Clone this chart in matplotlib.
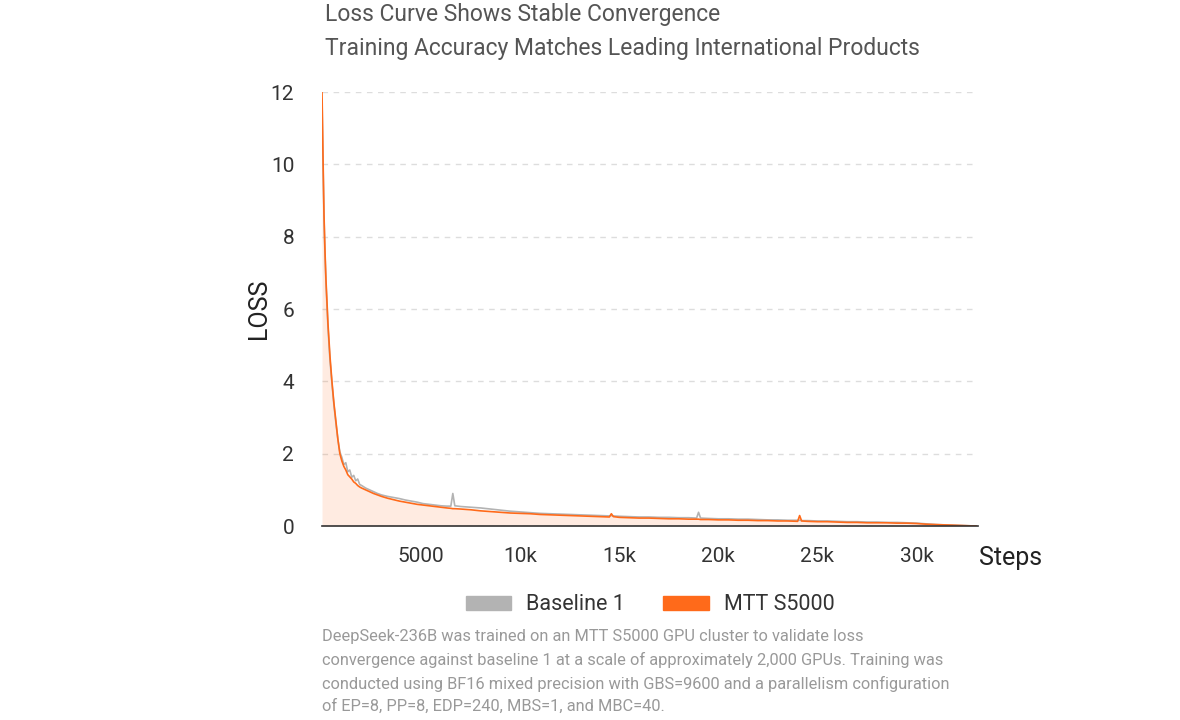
import matplotlib.pyplot as plt
from matplotlib.patches import Patch
from matplotlib.ticker import FuncFormatter

plt.rcParams['font.family'] = ['Liberation Sans Narrow', 'Roboto', 'DejaVu Sans']

# training steps (shared by both runs)
steps = [0, 50, 100, 150, 200, 300, 400, 500, 600, 700,
         800, 900, 1000, 1100, 1200, 1300, 1400, 1500, 1600, 1700,
         1800, 1900, 2000, 2200, 2400, 2600, 2800, 3000, 3300, 3600,
         3900, 4200, 4500, 4800, 5100, 5400, 5700, 6000, 6300, 6500,
         6600, 6700, 7000, 7500, 8000, 8500, 9000, 9500, 10000, 10500,
         11000, 11500, 12000, 12500, 13000, 13500, 14000, 14500, 14600, 14700,
         15000, 15500, 16000, 16500, 17000, 17500, 18000, 18500, 18900, 19000,
         19100, 19500, 20000, 20500, 21000, 21500, 22000, 22500, 23000, 23500,
         24000, 24100, 24200, 24500, 25000, 25500, 26000, 26500, 27000, 27500,
         28000, 28500, 29000, 29500, 30000, 30500, 31000, 31500, 32000, 32500,
         33000]

mtt_loss = [12.0, 10.2, 8.6, 7.6, 6.8, 5.6, 4.7, 4.0, 3.4, 2.9,
            2.4, 2.0, 1.8, 1.65, 1.55, 1.42, 1.36, 1.3, 1.22, 1.18,
            1.12, 1.08, 1.05, 1.0, 0.95, 0.9, 0.86, 0.82, 0.77, 0.73,
            0.69, 0.66, 0.63, 0.6, 0.58, 0.56, 0.54, 0.52, 0.5, 0.49,
            0.48, 0.48, 0.47, 0.45, 0.42, 0.40, 0.38, 0.36, 0.35, 0.34,
            0.32, 0.31, 0.30, 0.29, 0.28, 0.27, 0.26, 0.25, 0.34, 0.26,
            0.24, 0.23, 0.22, 0.22, 0.21, 0.20, 0.20, 0.19, 0.19, 0.19,
            0.18, 0.18, 0.17, 0.17, 0.16, 0.16, 0.15, 0.15, 0.14, 0.14,
            0.13, 0.29, 0.14, 0.13, 0.12, 0.12, 0.11, 0.10, 0.10, 0.09,
            0.09, 0.09, 0.08, 0.08, 0.07, 0.05, 0.04, 0.03, 0.02, 0.01,
            0.0]

baseline_loss = [11.8, 10.0, 8.5, 7.5, 6.7, 5.5, 4.6, 3.95, 3.35, 2.85,
                 2.4, 2.05, 1.9, 1.7, 1.75, 1.5, 1.55, 1.35, 1.4, 1.25,
                 1.3, 1.15, 1.12, 1.05, 1.0, 0.95, 0.9, 0.86, 0.82, 0.79,
                 0.76, 0.72, 0.69, 0.66, 0.62, 0.6, 0.58, 0.56, 0.55, 0.55,
                 0.9, 0.56, 0.54, 0.52, 0.5, 0.47, 0.44, 0.41, 0.39, 0.37,
                 0.35, 0.34, 0.33, 0.32, 0.31, 0.30, 0.29, 0.28, 0.29, 0.28,
                 0.27, 0.26, 0.25, 0.25, 0.24, 0.24, 0.23, 0.23, 0.22, 0.38,
                 0.22, 0.21, 0.20, 0.20, 0.19, 0.19, 0.18, 0.17, 0.17, 0.16,
                 0.16, 0.16, 0.15, 0.15, 0.14, 0.14, 0.13, 0.12, 0.12, 0.11,
                 0.11, 0.10, 0.10, 0.09, 0.08, 0.06, 0.04, 0.03, 0.02, 0.01,
                 0.0]

x_ticks = [5000, 10000, 15000, 20000, 25000, 30000]
y_ticks = [0, 2, 4, 6, 8, 10, 12]

title_lines = ["Loss Curve Shows Stable Convergence",
               "Training Accuracy Matches Leading International Products"]
caption = ("DeepSeek-236B was trained on an MTT S5000 GPU cluster to validate loss\n"
           "convergence against baseline 1 at a scale of approximately 2,000 GPUs. Training was\n"
           "conducted using BF16 mixed precision with GBS=9600 and a parallelism configuration\n"
           "of EP=8, PP=8, EDP=240, MBS=1, and MBC=40.")

orange = '#ff6a1a'
gray = '#b3b3b3'

fig = plt.figure(figsize=(11.8, 7.2), dpi=100)
ax = fig.add_axes([0.2729, 0.2694, 0.5559, 0.6028])

ax.fill_between(steps, mtt_loss, 0, color=orange, alpha=0.13, linewidth=0)
ax.plot(steps, baseline_loss, color=gray, linewidth=1.2, label='Baseline 1')
ax.plot(steps, mtt_loss, color=orange, linewidth=1.2, label='MTT S5000')

ax.set_xlim(0, 33100)
ax.set_ylim(0, 12)
ax.set_xticks(x_ticks)
ax.set_yticks(y_ticks)
ax.xaxis.set_major_formatter(FuncFormatter(lambda v, p: '5000' if v == 5000 else f'{int(v / 1000)}k'))
ax.tick_params(axis='both', length=0, labelsize=15, colors='#333333')
ax.tick_params(axis='x', pad=15)
ax.tick_params(axis='y', pad=20)

for side in ['top', 'right', 'left']:
    ax.spines[side].set_visible(False)
ax.spines['bottom'].set_color('#333333')
ax.spines['bottom'].set_linewidth(1.2)

ax.yaxis.grid(True, linestyle=(0, (4, 4)), color='#dddddd', linewidth=1)
ax.set_axisbelow(True)

ax.set_ylabel('LOSS', fontsize=18, color='#222222', labelpad=0)
fig.text(0.8288 + 0.0005, 1 - 558 / 720, 'Steps', fontsize=18, color='#222222',
         ha='left', va='center')

fig.text(325 / 1180, 1 - 15 / 720, title_lines[0], fontsize=16.5, color='#555555',
         ha='left', va='center')
fig.text(325 / 1180, 1 - 48 / 720, title_lines[1], fontsize=16.5, color='#555555',
         ha='left', va='center')

handles = [Patch(color=gray, label='Baseline 1'), Patch(color=orange, label='MTT S5000')]
fig.legend(handles=handles, loc='center', bbox_to_anchor=(650 / 1180, 1 - 605 / 720),
           ncol=2, frameon=False, fontsize=15.5, handlelength=2.1, handleheight=0.65,
           columnspacing=1.8, handletextpad=0.7, labelcolor='#333333')

fig.text(322 / 1180, 1 - 629 / 720, caption, fontsize=11.8, color='#999999',
         ha='left', va='top', linespacing=1.6)

fig.savefig('out.png', dpi=100)
